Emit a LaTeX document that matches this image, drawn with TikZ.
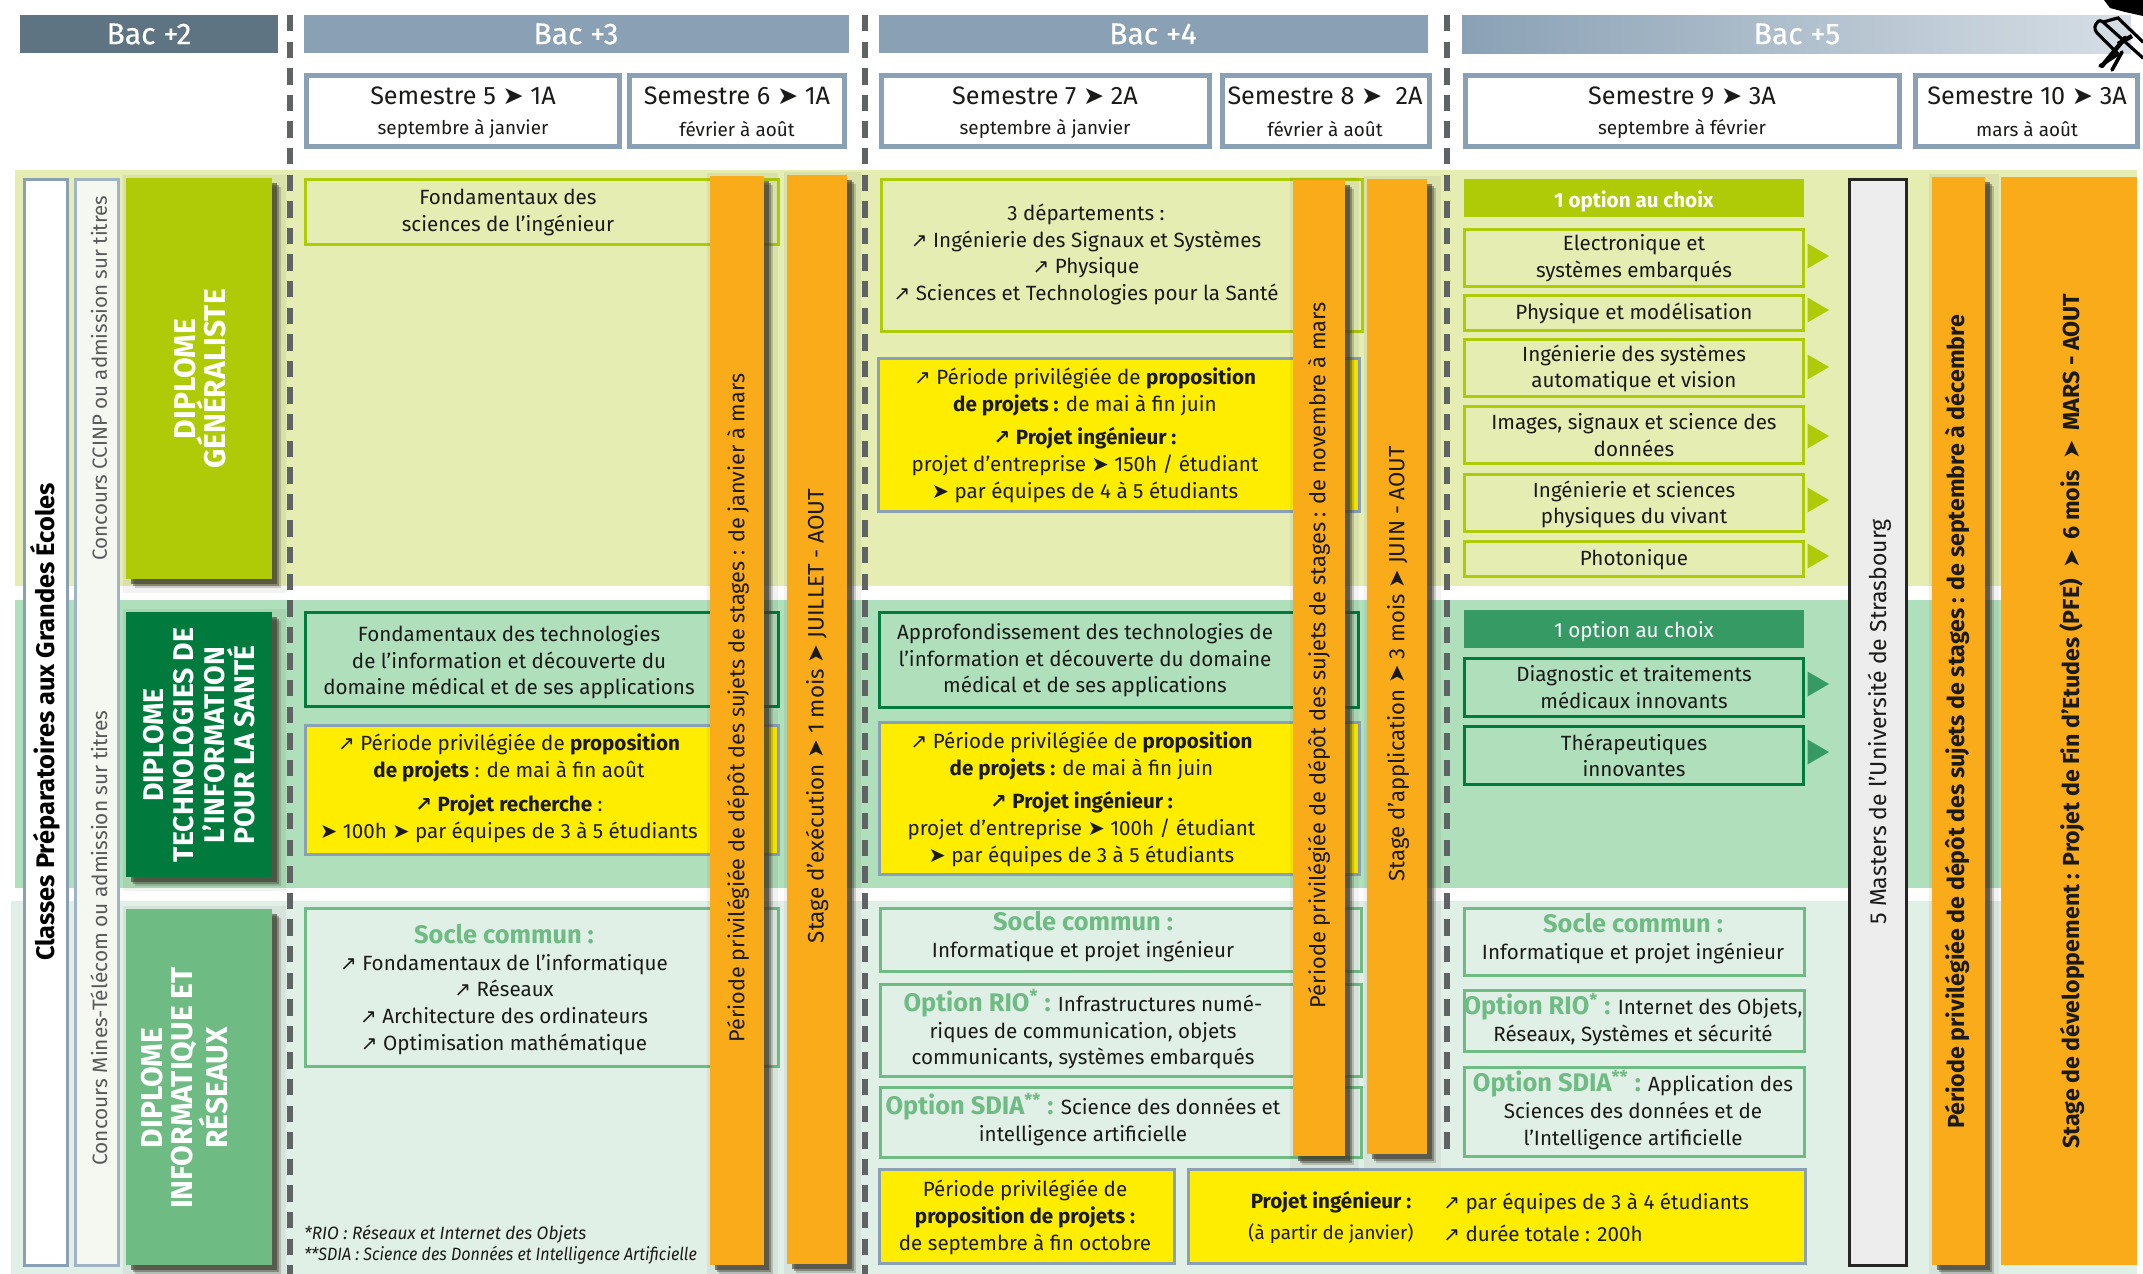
\documentclass[tikz,border=0pt]{standalone}
\usepackage{fontspec}
\setmainfont{Fira Sans}
\newfontfamily\symf{DejaVu Sans}
\newfontfamily\medf[FakeBold=0.5]{Fira Sans}
\usetikzlibrary{shapes.geometric}
\definecolor{lime}{HTML}{AFCB08}
\definecolor{bgA}{HTML}{E5EDB3}
\definecolor{bgB}{HTML}{B0DFBB}
\definecolor{bgC}{HTML}{E1F0E6}
\definecolor{dgreen}{HTML}{007A3D}
\definecolor{mgreen}{HTML}{6FBB84}
\definecolor{tgreen}{HTML}{369A65}
\definecolor{slate}{HTML}{8AA1B5}
\definecolor{slated}{HTML}{5F7483}
\definecolor{orng}{HTML}{F9AB1A}
\definecolor{yel}{HTML}{FFED00}
\definecolor{ink}{HTML}{1A1A18}
\definecolor{dashc}{HTML}{5F6363}
\definecolor{pale}{HTML}{F4F8F1}
\newcommand\nar{{\symf\fontsize{10}{10}\selectfont ↗}}
\newcommand\nbr{{\symf\bfseries\fontsize{10}{10}\selectfont ↗}}
\newcommand\chv{{\symf ➤}}
\newcommand\fz[1]{\fontsize{#1}{13.35}\selectfont}
\newcommand\gt[1]{{\bfseries\color{mgreen}\fontsize{12.7}{13.35}\selectfont #1}}
\newcommand\shd[4]{%
 \fill[black,opacity=.05] (#1-3,#2-3) rectangle (#3+14,#4+14);
 \foreach \d/\o in {9/.22,7/.4,5/.6}{\fill[black!75!olive,opacity=\o] (#1+\d,#2+\d) rectangle (#3+\d,#4+\d);}}
\newcommand\tri[2]{\fill[#1] (1807.5,#2-12.5) -- (1829,#2) -- (1807.5,#2+12.5) -- cycle;}
\tikzset{
 x=0.5pt,y=-0.5pt,
 txt/.style={align=center,inner sep=0pt,text=ink,font=\fz{10.3},yshift=-0.65pt},
 rot/.style={align=center,inner sep=0pt,text=ink,rotate=90},
 bacbar/.style={fill=slate},
 bac/.style={inner sep=0pt,text=white,font=\medf\fontsize{15}{16}\selectfont},
 sem/.style={draw=slate,line width=2.5pt,fill=white},
 semt/.style={inner sep=0pt,text=ink,font=\fontsize{12.6}{14}\selectfont},
 sems/.style={inner sep=0pt,text=ink,font=\fontsize{9.45}{12}\selectfont},
 lbox/.style={draw=lime,line width=1.5pt},
 gbox/.style={draw=dgreen,line width=1.5pt},
 mbox/.style={draw=mgreen,line width=1.5pt},
 ybox/.style={fill=yel,draw=slate,line width=1.5pt},
 dashln/.style={draw=dashc,line width=2.8pt,dash pattern=on 8.2pt off 5.1pt},
 dip/.style={rotate=90,align=center,inner sep=0pt,text=white,font=\bfseries\fontsize{15}{15}\selectfont},
}
\begin{document}
\begin{tikzpicture}
\useasboundingbox (0,0) rectangle (2143,1274);
% bands
\fill[bgA] (15,170) rectangle (2137,586);
\fill[bgB] (15,600) rectangle (2137,888);
\fill[bgC] (11,901) rectangle (2137,1274);
% header bars
\fill[slated] (20,15) rectangle (278,53);
\fill[bacbar] (304,15) rectangle (849,53);
\fill[bacbar] (879,15) rectangle (1428,53);
\shade[left color=slate,right color=slate!35!white] (1462,15) rectangle (2131,53);
% dashed separators
\coordinate (da) at (290,15); \coordinate (db) at (290,1274);
\coordinate (dc) at (865,15); \coordinate (dd) at (865,1274);
\coordinate (de) at (1447,15); \coordinate (df) at (1447,1158);
\draw[dashln] (da) -- (db);
\draw[dashln] (dc) -- (dd);
\draw[dashln] (de) -- (df);
% semesters
\draw[sem] (306,75.5) rectangle (619.5,146.5);
\draw[sem] (629,75.5) rectangle (844,146.5);
\draw[sem] (881,75.5) rectangle (1209,146.5);
\draw[sem] (1222,75.5) rectangle (1429,146.5);
\draw[sem] (1465,75.5) rectangle (1899.5,146.5);
\draw[sem] (1915,75.5) rectangle (2137,146.5);
% left columns
\draw[draw=slate,line width=1.5pt,fill=white] (24,179) rectangle (67,1265);
\draw[draw=slate!80,line width=1.5pt,fill=pale] (75,179) rectangle (118,1265);
\shd{126}{178}{272}{579}\fill[lime] (126,178) rectangle (272,579);
\shd{126}{612}{272}{877}\fill[dgreen] (126,612) rectangle (272,877);
\shd{126}{909}{272}{1265}\fill[mgreen] (126,909) rectangle (272,1265);
% Bac+3 boxes
\draw[lbox] (305,179) rectangle (778.5,244);
\draw[gbox] (305,612) rectangle (778.5,706);
\draw[ybox] (305,725) rectangle (778.5,854);
\draw[mbox] (305,908) rectangle (778.5,1066);
% Bac+4 boxes
\draw[lbox] (881,179) rectangle (1362,331);
\draw[ybox] (878,358) rectangle (1359,511);
\draw[gbox] (879.5,612) rectangle (1358,707);
\draw[ybox] (879.5,722) rectangle (1359,874);
\draw[mbox] (880,908) rectangle (1361.5,971);
\draw[mbox] (880,984) rectangle (1361.5,1076);
\draw[mbox] (880,1087) rectangle (1361.5,1157);
\draw[ybox] (879,1169) rectangle (1174,1263);
\draw[ybox] (1188,1169) rectangle (1805,1263);
% Bac+5 boxes
\fill[lime] (1463.5,179) rectangle (1804,217);
\draw[lbox] (1464.5,229) rectangle (1803,286);
\draw[lbox] (1464.5,295) rectangle (1803,330);
\draw[lbox] (1464.5,339) rectangle (1803,396);
\draw[lbox] (1464.5,406) rectangle (1803,463);
\draw[lbox] (1464.5,474) rectangle (1803,531);
\draw[lbox] (1464.5,541) rectangle (1803,576);
\fill[tgreen] (1463.5,610) rectangle (1804,648);
\draw[gbox] (1464.5,658) rectangle (1803,716);
\draw[gbox] (1464.5,726) rectangle (1803,784);
\draw[mbox] (1464,908) rectangle (1804,975);
\draw[mbox] (1464,990) rectangle (1804,1051);
\draw[mbox] (1464,1067) rectangle (1804,1156);
\tri{lime}{256}\tri{lime}{310}\tri{lime}{367}\tri{lime}{436}\tri{lime}{500}\tri{lime}{556}
\tri{tgreen}{684}\tri{tgreen}{752}
% masters box
\draw[draw=black!85,line width=1.5pt,fill=black!7] (1849,179) rectangle (1906,1265);
% orange bars
\shd{710}{176}{763.5}{1265}\fill[orng] (710,176) rectangle (763.5,1265);
\shd{786.5}{175}{847}{1264}\fill[orng] (786.5,175) rectangle (847,1264);
\shd{1292.5}{180}{1345}{1156}\fill[orng] (1292.5,180) rectangle (1345,1156);
\shd{1367}{179}{1427}{1154}\fill[orng] (1367,179) rectangle (1427,1154);
\shd{1932}{177}{1985}{1265}\fill[orng] (1932,177) rectangle (1985,1265);
\fill[orng] (2001,177) rectangle (2137,1265);
% cap
\fill[black] (2104,0) -- (2143,0) -- (2143,16) -- (2125,12) -- (2110,8) -- cycle;
\draw[black,line width=1.6pt,line cap=round] (2143,58) -- (2103,22) .. controls (2099,19) and (2097,22) .. (2096,24) .. controls (2094,28) and (2095,31) .. (2098,34) -- (2118,54);
\draw[black,line width=1.6pt,line cap=round] (2103,22) .. controls (2108,21) and (2113,19) .. (2118,18) -- (2143,42);
\draw[black,line width=2.2pt,line cap=round] (2125,38) -- (2102,66);
\draw[black,line width=1.8pt,line cap=round] (2118,54) -- (2100,66);
\draw[black,line width=1.8pt,line cap=round] (2122,52) -- (2112,70);
\draw[black,line width=2.2pt] (2118,44) -- (2132,36);
% header text
\node[bac] (b2) at (149,34) {Bac +2};
\node[bac] (b3) at (576,34) {Bac +3};
\node[bac] (b4) at (1153,34) {Bac +4};
\node[bac] (b5) at (1797,34) {Bac +5};
\node[semt] (s5) at (463,95.5) {Semestre 5 \chv\ 1A};
\node[sems] (s5b) at (463,129) {septembre à janvier};
\node[semt] (s6) at (737,95.5) {Semestre 6 \chv\ 1A};
\node[sems] (s6b) at (737,129) {février à août};
\node[semt] (s7) at (1045,95.5) {Semestre 7 \chv\ 2A};
\node[sems] (s7b) at (1045,129) {septembre à janvier};
\node[semt] (s8) at (1325,95.5) {Semestre 8 \chv\ \ 2A};
\node[sems] (s8b) at (1325,129) {février à août};
\node[semt] (s9) at (1682,95.5) {Semestre 9 \chv\ 3A};
\node[sems] (s9b) at (1682,129) {septembre à février};
\node[semt] (s10) at (2027,95.5) {Semestre 10 \chv\ 3A};
\node[sems] (s10b) at (2027,129) {mars à août};
% left texts
\node[rot,font=\bfseries\fontsize{12.7}{14}\selectfont,text=black] (cp) at (45,722) {Classes Préparatoires aux Grandes Écoles};
\node[rot,font=\fontsize{10.25}{13}\selectfont,text=black!65] (c1) at (99,378) {Concours CCINP ou admission sur titres};
\node[rot,font=\fontsize{10.4}{13}\selectfont,text=black!65] (c2) at (99,938) {Concours Mines-Télécom ou admission sur titres};
\node[dip] (d1) at (200,379) {DIPLOME\\GÉNÉRALISTE};
\node[dip,font=\bfseries\fontsize{14.2}{15.2}\selectfont] (d2) at (199,745) {DIPLOME\\TECHNOLOGIES DE\\L’INFORMATION\\POUR LA SANTÉ};
\node[dip] (d3) at (185,1088) {DIPLOME\\INFORMATIQUE ET\\RÉSEAUX};
% Bac+3 text
\node[txt] (t1) at (508,211) {Fondamentaux des\\sciences de l’ingénieur};
\node[txt] (t2) at (509,661) {Fondamentaux des technologies\\de l’information et découverte du\\domaine médical et de ses applications};
\node[txt] (t3) at (509,787) {\nar\ Période privilégiée de \textbf{proposition}\\\textbf{de projets} : de mai à fin août\\[3.5pt]\nbr\ \textbf{Projet recherche} :\\\chv\ 100h \chv\ par équipes de 3 à 5 étudiants};
\node[txt] (t4) at (504,988) {\gt{Socle commun :}\\\nar\ Fondamentaux de l’informatique\\\nar\ Réseaux\\\nar\ Architecture des ordinateurs\\\nar\ Optimisation mathématique};
\node[inner sep=0pt,anchor=west,text=ink,align=left,font=\itshape\fontsize{8.9}{10.5}\selectfont] (fn) at (304,1245) {\scalebox{.967}[1]{*RIO : Réseaux et Internet des Objets}\\\scalebox{.905}[1]{**SDIA : Science des Données et Intelligence Artificielle}};
% Bac+4 text
\node[txt] (t5) at (1086,253) {3 départements :\\\nar\ Ingénierie des Signaux et Systèmes\\\nar\ Physique\\\nar\ Sciences et Technologies pour la Santé};
\node[txt] (t6) at (1085,434) {\nar\ Période privilégiée de \textbf{proposition}\\\textbf{de projets :} de mai à fin juin\\[3.5pt]\nbr\ \textbf{Projet ingénieur :}\\projet d’entreprise \chv\ 150h / étudiant\\\chv\ par équipes de 4 à 5 étudiants};
\node[txt] (t7) at (1085,659) {Approfondissement des technologies de\\l’information et découverte du domaine\\médical et de ses applications};
\node[txt] (t8) at (1081.5,798) {\nar\ Période privilégiée de \textbf{proposition}\\\textbf{de projets :} de mai à fin juin\\[3.5pt]\nbr\ \textbf{Projet ingénieur :}\\projet d’entreprise \chv\ 100h / étudiant\\\chv\ par équipes de 3 à 5 étudiants};
\node[txt] (t9) at (1083,935) {\gt{Socle commun :}\\Informatique et projet ingénieur};
\node[txt] (t10) at (1083,1028) {\gt{Option RIO\textsuperscript{*} :} Infrastructures numé-\\riques de communication, objets\\communicants, systèmes embarqués};
\node[txt] (t11) at (1083,1118) {\gt{Option SDIA\textsuperscript{**} :} Science des données et\\intelligence artificielle};
\node[txt] (t12) at (1025,1216) {Période privilégiée de\\\textbf{proposition de projets :}\\de septembre à fin octobre};
\node[txt] (t13) at (1331,1216) {\textbf{Projet ingénieur :}\\[2.5pt]{\fz{9.4}(à partir de janvier)}};
\node[txt,align=left,anchor=west] (t14) at (1443,1216) {\nar\ par équipes de 3 à 4 étudiants\\[2.5pt]\nar\ durée totale : 200h};
% Bac+5 text
\node[txt,text=white] (u0) at (1634,200) {\textbf{1 option au choix}};
\node[txt] (u1) at (1634,257) {Electronique et\\systèmes embarqués};
\node[txt] (u2) at (1634,312) {Physique et modélisation};
\node[txt] (u3) at (1634,367) {Ingénierie des systèmes\\automatique et vision};
\node[txt] (u4) at (1634,434) {Images, signaux et science des\\données};
\node[txt] (u5) at (1634,503) {Ingénierie et sciences\\physiques du vivant};
\node[txt] (u6) at (1634,558) {Photonique};
\node[txt,text=white] (u7) at (1634,630) {1 option au choix};
\node[txt] (u8) at (1634,686) {Diagnostic et traitements\\médicaux innovants};
\node[txt] (u9) at (1634,754) {Thérapeutiques\\innovantes};
\node[txt] (u10) at (1633,937.5) {\gt{Socle commun :}\\Informatique et projet ingénieur};
\node[txt] (u11) at (1633,1018) {\gt{Option RIO\textsuperscript{*} :} Internet des Objets,\\Réseaux, Systèmes et sécurité};
\node[txt] (u12) at (1633,1108.5) {\gt{Option SDIA\textsuperscript{**} :} Application des\\Sciences des données et de\\l’Intelligence artificielle};
% rotated texts
\node[rot,font=\fz{10.8}] (o1) at (738,708) {Période privilégiée de dépôt des sujets de stages : de janvier à mars};
\node[rot,font=\fz{11.2}] (o2) at (817,716) {Stage d’exécution \chv\ 1 mois \chv\ JUILLET - AOUT};
\node[rot,font=\fz{10.9}] (o3) at (1319,655) {Période privilégiée de dépôt des sujets de stages : de novembre à mars};
\node[rot,font=\fz{11.05}] (o4) at (1398,664) {Stage d’application \chv\ 3 mois \chv\ JUIN - AOUT};
\node[rot,font=\fz{11.5}] (o5) at (1880,722) {5 Masters de l’Université de Strasbourg};
\node[rot,font=\bfseries\fz{11.6}] (o6) at (1957,722) {Période privilégiée de dépôt des sujets de stages : de septembre à décembre};
\node[rot,font=\bfseries\fz{11.6}] (o7) at (2072,721) {Stage de développement : Projet de Fin d’Etudes (PFE)\hspace{2.3pt} \chv\hspace{2.3pt} 6 mois\hspace{2.3pt} \chv\hspace{2.3pt} MARS - AOUT};
\end{tikzpicture}
\end{document}
